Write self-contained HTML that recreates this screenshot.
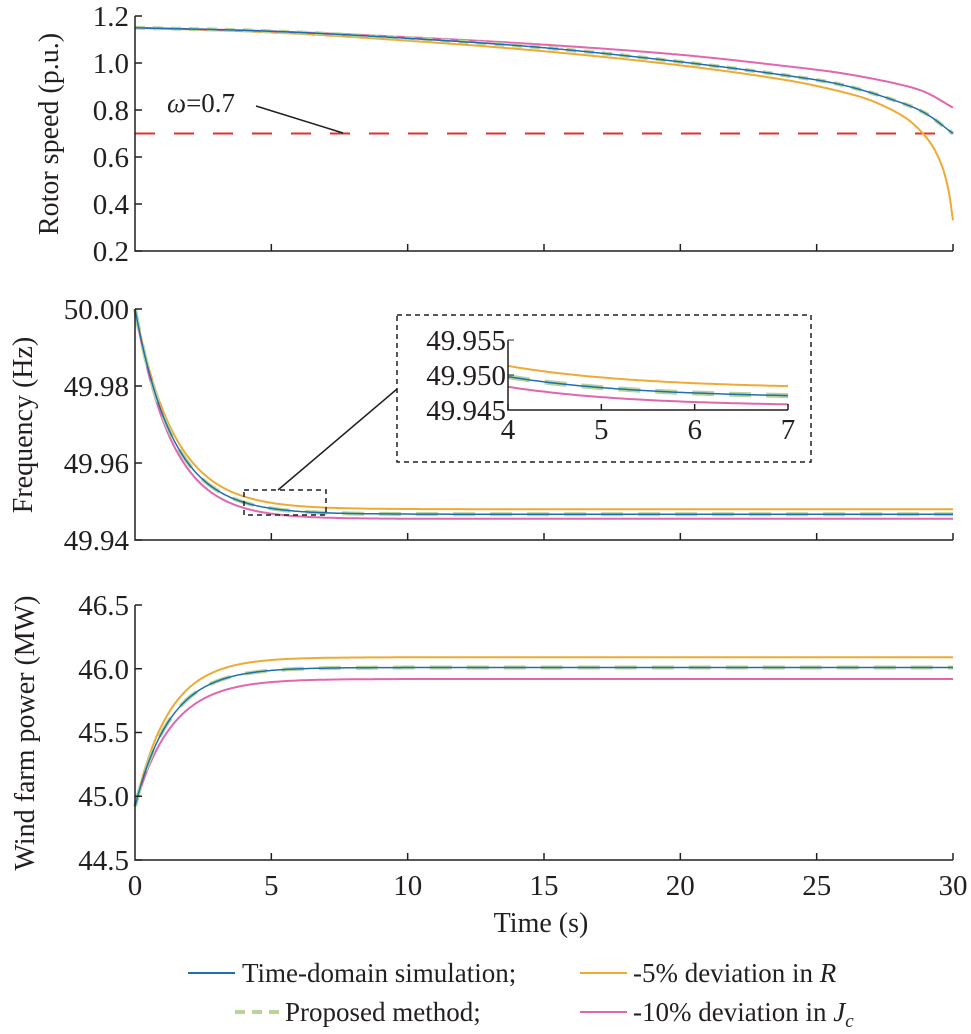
<!DOCTYPE html>
<html><head><meta charset="utf-8">
<style>
html,body{margin:0;padding:0;background:#fff;}
svg{display:block;}
</style></head>
<body>
<svg id="s" width="971" height="1034" xmlns="http://www.w3.org/2000/svg" font-family="Liberation Serif, serif">
<g id="g"></g>
<g font-size="29" fill="#231f20" font-family="Liberation Serif, serif">
<!-- top y ticks -->
<g text-anchor="end">
<text x="129" y="26">1.2</text><text x="129" y="73">1.0</text><text x="129" y="120">0.8</text>
<text x="129" y="167">0.6</text><text x="129" y="214">0.4</text><text x="129" y="261">0.2</text>
<text x="129" y="319">50.00</text><text x="129" y="396">49.98</text><text x="129" y="473">49.96</text><text x="129" y="550">49.94</text>
<text x="129" y="615">46.5</text><text x="129" y="679">46.0</text><text x="129" y="742">45.5</text><text x="129" y="806">45.0</text><text x="129" y="870">44.5</text>
<text x="506" y="350">49.955</text><text x="506" y="385">49.950</text><text x="506" y="420">49.945</text>
</g>
<g text-anchor="middle">
<text x="135" y="895">0</text><text x="271.3" y="895">5</text><text x="407.7" y="895">10</text><text x="544" y="895">15</text>
<text x="680.3" y="895">20</text><text x="816.7" y="895">25</text><text x="953" y="895">30</text>
<text x="508" y="439">4</text><text x="601.3" y="439">5</text><text x="694.7" y="439">6</text><text x="788" y="439">7</text>
</g>
</g>
<g font-size="27" fill="#231f20" font-family="Liberation Serif, serif">
<text x="541" y="932" text-anchor="middle" font-size="28">Time (s)</text>
<text transform="translate(58,134) rotate(-90)" text-anchor="middle" font-size="28">Rotor speed (p.u.)</text>
<text transform="translate(32,425) rotate(-90)" text-anchor="middle" font-size="28">Frequency (Hz)</text>
<text transform="translate(34,733) rotate(-90)" text-anchor="middle" font-size="28">Wind farm power (MW)</text>
<text x="167" y="112"><tspan font-style="italic">ω</tspan>=0.7</text>
<text x="242" y="982">Time-domain simulation;</text>
<text x="633" y="982">-5% deviation in <tspan font-style="italic">R</tspan></text>
<text x="285" y="1021">Proposed method;</text>
<text x="633" y="1021">-10% deviation in <tspan font-style="italic">J</tspan><tspan font-style="italic" font-size="19" dy="6">c</tspan></text>
</g>
<line x1="188" y1="973" x2="235" y2="973" stroke="#1f6fae" stroke-width="2"/>
<line x1="580" y1="973" x2="627" y2="973" stroke="#eeaa33" stroke-width="2"/>
<line x1="235" y1="1012" x2="280" y2="1012" stroke="#b8d49a" stroke-width="4" stroke-dasharray="10,7"/>
<line x1="580" y1="1012" x2="627" y2="1012" stroke="#e066b0" stroke-width="2"/>
</svg>
<script>
const g=document.getElementById('g');
let h='';
const X=t=>135+t*(818/30);
function path(pts,col,w,dash){return `<polyline fill="none" stroke="${col}" stroke-width="${w}" ${dash?`stroke-dasharray="${dash}"`:''} points="${pts.map(p=>p[0].toFixed(1)+','+p[1].toFixed(1)).join(' ')}"/>`;}
function interp(tab,t){for(let i=0;i<tab.length-1;i++){if(t<=tab[i+1][0]){const p1=tab[i],p2=tab[i+1],p0=tab[i-1]||p1,p3=tab[i+2]||p2;const u=(t-p1[0])/(p2[0]-p1[0]);
const dt=p2[0]-p1[0];const m1=(p2[1]-p0[1])/(p2[0]-p0[0]||1)*dt,m2=(p3[1]-p1[1])/(p3[0]-p1[0]||1)*dt;
const u2=u*u,u3=u2*u;return (2*u3-3*u2+1)*p1[1]+(u3-2*u2+u)*m1+(-2*u3+3*u2)*p2[1]+(u3-u2)*m2;}}return tab[tab.length-1][1];}
const BL='#1f6fae',OR='#eeaa33',PK='#e066b0',GR='#b8d49a';
const Yt=v=>16+(1.2-v)*235;
const blue=[[0,1.15],[5,1.135],[10,1.105],[15,1.065],[20,1.005],[24,0.945],[26,0.905],[28,0.835],[29,0.785],[30,0.70]];
const orange=[[0,1.15],[5,1.13],[10,1.095],[15,1.05],[20,0.99],[24,0.925],[26,0.875],[27,0.84],[28,0.785],[28.6,0.735],[29.2,0.655],[29.6,0.56],[29.85,0.45],[30,0.33]];
const pink=[[0,1.15],[5,1.135],[10,1.11],[15,1.078],[20,1.035],[24,0.985],[26,0.955],[28,0.91],[29,0.875],[30,0.81]];
function curve(tab,Y,col,w,dash){let p=[];for(let t=0;t<=30.001;t+=0.05)p.push([X(t),Y(interp(tab,t))]);return path(p,col,w,dash);}
h+=`<line x1="135" y1="133.5" x2="953" y2="133.5" stroke="#e03030" stroke-width="2" stroke-dasharray="20,19"/>`;
h+=`<line x1="256" y1="106" x2="343" y2="133" stroke="#231f20" stroke-width="1.5"/>`;
h+=curve(orange,Yt,OR,2);h+=curve(pink,Yt,PK,2);h+=curve(blue,Yt,GR,4,'10,8');h+=curve(blue,Yt,BL,1.5);
const Ym=v=>309+(50-v)*(231/0.06);
function fcurve(fin,tau,Y,x0,x1,Xf,col,w,dash){let p=[];for(let t=x0;t<=x1+1e-6;t+=0.05)p.push([Xf(t),Y(50-(50-fin)*(1-Math.exp(-t/tau)))]);return path(p,col,w,dash);}
h+=fcurve(49.948,1.45,Ym,0,30,X,OR,2);h+=fcurve(49.9455,1.35,Ym,0,30,X,PK,2);
h+=fcurve(49.9467,1.4,Ym,0,30,X,GR,4,'22,15');h+=fcurve(49.9467,1.4,Ym,0,30,X,BL,1.5);
const Xi=t=>508+(t-4)*(280/3);const Yi=v=>340+(49.955-v)*7000;
h+=`<rect x="397" y="315" width="414" height="147" fill="none" stroke="#231f20" stroke-width="1.5" stroke-dasharray="5,4"/>`;
h+=`<rect x="244" y="490" width="82" height="25" fill="none" stroke="#231f20" stroke-width="1.5" stroke-dasharray="5,4"/>`;
h+=`<line x1="278" y1="490" x2="397" y2="389" stroke="#231f20" stroke-width="1.5"/>`;
h+=fcurve(49.948,1.45,Yi,4,7,Xi,OR,2);h+=fcurve(49.9455,1.35,Yi,4,7,Xi,PK,2);
h+=fcurve(49.9467,1.4,Yi,4,7,Xi,GR,5,'22,15');h+=fcurve(49.9467,1.4,Yi,4,7,Xi,BL,1.5);
h+=`<path d="M508,340 V410 H788" fill="none" stroke="#231f20" stroke-width="1.5"/><line x1="508" y1="340" x2="514" y2="340" stroke="#231f20"/><line x1="508" y1="375" x2="514" y2="375" stroke="#231f20"/>`;
[4,5,6,7].forEach(t=>{h+=`<line x1="${Xi(t)}" y1="410" x2="${Xi(t)}" y2="404" stroke="#231f20" stroke-width="1.5"/>`;});
const Yb=v=>605+(46.5-v)*127.5;
function pcurve(fin,tau,col,w,dash){let p=[];for(let t=0;t<=30.001;t+=0.05)p.push([X(t),Yb(44.92+(fin-44.92)*(1-Math.exp(-t/tau)))]);return path(p,col,w,dash);}
h+=pcurve(46.09,1.25,OR,2);h+=pcurve(45.92,1.35,PK,2);h+=pcurve(46.01,1.3,GR,4,'22,15');h+=pcurve(46.01,1.3,BL,1.5);
function axes(top,bot,ys){let s=`<path d="M135,${top} V${bot} H953" fill="none" stroke="#231f20" stroke-width="1.5"/>`;
ys.forEach(y=>{s+=`<line x1="135" y1="${y}" x2="142" y2="${y}" stroke="#231f20" stroke-width="1.5"/>`;});
for(let t=5;t<=30;t+=5)s+=`<line x1="${X(t)}" y1="${bot}" x2="${X(t)}" y2="${bot-7}" stroke="#231f20" stroke-width="1.5"/>`;return s;}
h+=axes(16,251,[16,63,110,157,204,251]);
h+=axes(309,540,[309,386,463,540]);
h+=axes(605,860,[605,668.75,732.5,796.25,860]);
g.innerHTML=h;
</script>
</body></html>
